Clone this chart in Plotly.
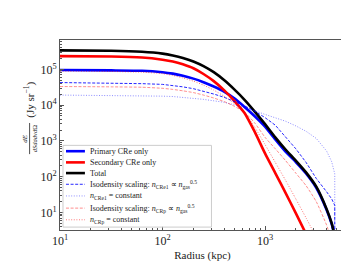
import plotly.graph_objects as go

# ---- data (radius in kpc, brightness in Jy/sr) ----
radius = [10, 31.6, 63.1, 100, 126, 158, 200, 251, 316, 398, 501, 631, 794, 1000,
          1259, 1585, 1995, 2512, 3162, 3981, 4467, 4786]
r_cut = 4786  # outer edge where the constant / isodensity CRe curves drop

total = [3.39e5, 3.31e5, 3.09e5, 2.75e5, 2.45e5, 2.09e5, 1.66e5, 1.23e5, 8.32e4, 5.01e4, 2.75e4,
         1.41e4, 6.61e3, 2.95e3, 1.26e3, 575, 282, 132, 52.5, 12.6, 5.01, 2.24]
primary = [9.55e4, 9.33e4, 9.12e4, 8.32e4, 7.59e4, 6.61e4, 5.50e4, 4.37e4, 3.31e4, 2.40e4, 1.55e4,
           8.91e3, 4.90e3, 2.51e3, 1.10e3, 501, 257, 123, 49.0, 12.0, 4.79, 2.14]
secondary = [2.34e5, 2.29e5, 2.14e5, 1.86e5, 1.66e5, 1.38e5, 1.07e5, 7.41e4, 4.68e4, 2.63e4, 1.32e4,
             6.03e3, 1.78e3, 447, 126, 35.5, 9.55, 2.51]
cre_iso = [4.27e4, 4.17e4, 3.98e4, 3.80e4, 3.55e4, 3.24e4, 2.88e4, 2.45e4, 2.04e4, 1.66e4, 1.29e4,
           9.55e3, 6.76e3, 4.47e3, 2.75e3, 1.32e3, 603, 251, 89.1, 38.0, 24.0, 15.8, 1.0]
cre_const = [1.91e4, 1.86e4, 1.86e4, 1.78e4, 1.74e4, 1.66e4, 1.55e4, 1.45e4, 1.32e4, 1.20e4, 1.02e4,
             8.51e3, 6.92e3, 5.50e3, 4.47e3, 3.55e3, 2.63e3, 1.86e3, 1.17e3, 525, 263, 120, 1.0]
crp_iso = [3.31e4, 3.24e4, 3.16e4, 2.95e4, 2.75e4, 2.51e4, 2.24e4, 1.91e4, 1.58e4, 1.26e4, 9.33e3,
           6.31e3, 3.16e3, 1.26e3, 603, 282, 126, 56.2, 20.0, 4.47, 1.58]
crp_const = [8.91e4, 8.71e4, 8.32e4, 7.59e4, 6.76e4, 5.75e4, 4.68e4, 3.63e4, 2.63e4, 1.78e4, 1.12e4,
             6.31e3, 2.40e3, 794, 251, 79.4, 24.0, 7.08, 2.0]

x_ticks = [10, 100, 1000]
x_ticklabels = ["10<sup>1</sup>", "10<sup>2</sup>", "10<sup>3</sup>"]
y_ticks = [10, 100, 1000, 1e4, 1e5]
y_ticklabels = ["10<sup>1</sup>", "10<sup>2</sup>", "10<sup>3</sup>", "10<sup>4</sup>", "10<sup>5</sup>"]

legend_labels = [
    "Primary CRe only",
    "Secondary CRe only",
    "Total",
    "Isodensity scaling: <i>n</i><sub>CRe1</sub> ∝ <i>n</i><sub>gas</sub><sup>0.5</sup>",
    "<i>n</i><sub>CRe1</sub> = constant",
    "Isodensity scaling: <i>n</i><sub>CRp</sub> ∝ <i>n</i><sub>gas</sub><sup>0.5</sup>",
    "<i>n</i><sub>CRp</sub> = constant",
]

FONT = "Liberation Serif"
DASH = "3px,1.6px"
DOT = "1px,1.6px"

styles = [
    dict(color="#0000ff", width=2.6, dash="solid", shape="spline"),
    dict(color="#ff0000", width=2.6, dash="solid", shape="spline"),
    dict(color="#000000", width=2.6, dash="solid", shape="spline"),
    dict(color="rgba(0,0,255,0.85)", width=1.0, dash=DASH, shape="linear"),
    dict(color="rgba(0,0,255,0.5)", width=0.9, dash=DOT, shape="linear"),
    dict(color="rgba(255,0,0,0.45)", width=1.0, dash=DASH, shape="spline"),
    dict(color="rgba(255,0,0,0.6)", width=0.9, dash=DOT, shape="spline"),
]

series = [
    (radius[:len(primary)], primary),
    (radius[:len(secondary)], secondary),
    (radius[:len(total)], total),
    (radius + [r_cut], cre_iso),
    (radius + [r_cut], cre_const),
    (radius[:len(crp_iso)], crp_iso),
    (radius[:len(crp_const)], crp_const),
]

fig = go.Figure()
for (x, y), st, lab in zip(series, styles, legend_labels):
    fig.add_trace(go.Scatter(x=x, y=y, mode="lines", name=lab, showlegend=False,
                             line=dict(color=st["color"], width=st["width"], dash=st["dash"],
                                       shape=st["shape"], smoothing=0.5)))

def minor_vals(lo, hi):
    out = []
    d = lo
    while d < hi:
        for k in range(2, 10):
            out.append(k * d)
        d *= 10
    return out

axis_common = dict(type="log", showgrid=False, zeroline=False, showline=True, linecolor="#555",
                   linewidth=1, mirror=True, ticks="inside", ticklen=4, tickcolor="#555",
                   tickfont=dict(family=FONT, size=12, color="#222"))

fig.update_xaxes(range=[1, 3.78], tickmode="array", tickvals=x_ticks, ticktext=x_ticklabels,
                 minor=dict(tickmode="array", tickvals=minor_vals(10, 10000), ticks="inside",
                            ticklen=2, tickcolor="#555"),
                 title=dict(text="Radius (kpc)", font=dict(family=FONT, size=11, color="#222"), standoff=3),
                 **axis_common)
fig.update_yaxes(range=[0.51, 5.82], tickmode="array", tickvals=y_ticks, ticktext=y_ticklabels,
                 minor=dict(tickmode="array", tickvals=minor_vals(1, 1e6), ticks="inside",
                            ticklen=2, tickcolor="#555"),
                 **axis_common)

def px(xp):
    return (xp - 52) / 286.0

def py(yp):
    return (227 - yp) / 195.3

# y-axis title built from rotated texts and a fraction bar
fig.add_annotation(x=px(22), y=py(93), xref="paper", yref="paper", text="(Jy sr<sup>−1</sup>)",
                   xanchor="center", yanchor="middle",
                   textangle=-90, showarrow=False, font=dict(family=FONT, size=11, color="#222"))
fig.add_annotation(x=px(16), y=py(133), xref="paper", yref="paper", text="<i>dE</i>",
                   xanchor="center", yanchor="middle",
                   textangle=-90, showarrow=False, font=dict(family=FONT, size=7, color="#222"))
fig.add_annotation(x=px(26.5), y=py(133), xref="paper", yref="paper", text="<i>dSdσdνd</i>Ω",
                   xanchor="center", yanchor="middle",
                   textangle=-90, showarrow=False, font=dict(family=FONT, size=6.5, color="#222"))
fig.add_shape(type="line", xref="paper", yref="paper", x0=px(21.5), x1=px(21.5), y0=py(117), y1=py(149),
              line=dict(color="#222", width=0.8))

# legend box drawn by hand (compact rows like the reference)
fig.add_shape(type="rect", xref="paper", yref="paper", x0=px(55), x1=px(204), y0=py(140), y1=py(224),
              line=dict(color="#cccccc", width=1), fillcolor="rgba(255,255,255,0.85)", layer="above")
row_y = [146, 157.5, 168.5, 180, 192, 204.5, 216.5]
for yy, st, lab in zip(row_y, styles, legend_labels):
    fig.add_shape(type="line", xref="paper", yref="paper", x0=px(58), x1=px(77), y0=py(yy), y1=py(yy),
                  line=dict(color=st["color"], width=st["width"], dash=st["dash"]), layer="above")
    fig.add_annotation(x=px(80), y=py(yy), xref="paper", yref="paper", text=lab, showarrow=False,
                       xanchor="left", yanchor="middle",
                       font=dict(family=FONT, size=8, color="#222"))

fig.update_layout(
    width=349, height=262,
    margin=dict(l=52, r=11, t=32, b=35),
    paper_bgcolor="white", plot_bgcolor="white",
    showlegend=False,
)

fig.write_html("out.html")
